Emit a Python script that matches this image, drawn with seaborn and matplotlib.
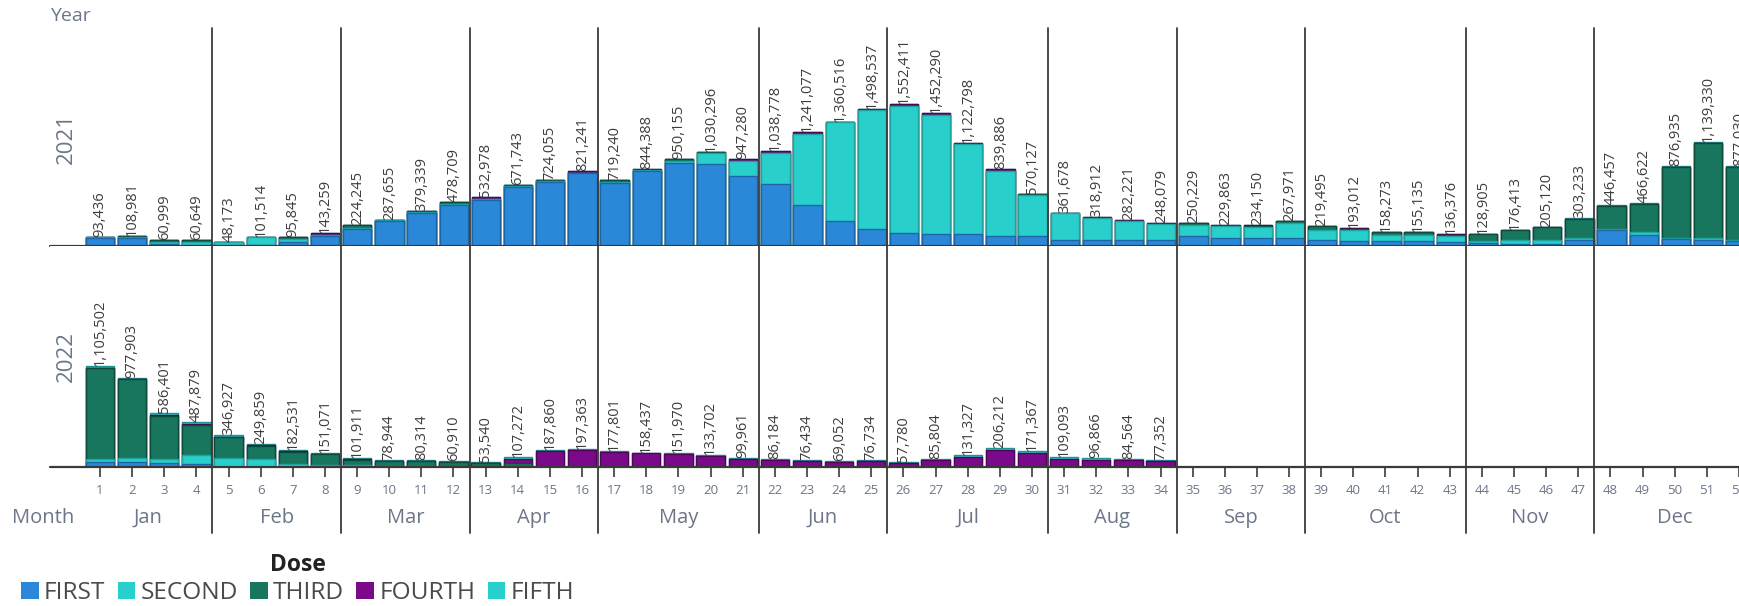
import pandas as pd
import seaborn as sns
import matplotlib.pyplot as plt
from matplotlib.patches import Patch
from matplotlib.transforms import blended_transform_factory

# Doses, stacked bottom -> top
doses = ['FIRST', 'SECOND', 'THIRD', 'FOURTH', 'FIFTH']
dose_colors = {'FIRST': '#2b88d8', 'SECOND': '#29d0cb', 'THIRD': '#18765f',
               'FOURTH': '#7b0a8b', 'FIFTH': '#29d0cb'}
edge_colors = {'FIRST': '#1d66a6', 'SECOND': '#1ea39e', 'THIRD': '#0d4a3b',
               'FOURTH': '#4c0657', 'FIFTH': '#1b9690'}

months = ['Jan', 'Feb', 'Mar', 'Apr', 'May', 'Jun', 'Jul', 'Aug', 'Sep', 'Oct', 'Nov', 'Dec']
month_weeks = [4, 4, 4, 4, 5, 4, 5, 4, 4, 5, 4, 5]

# 2021, weeks 1-52
weeks_2021 = list(range(1, 53))
first_2021 = [82000, 88000, 25000, 15000, 10000, 10000, 40000, 110000, 190000, 272000,
              365000, 450000, 500000, 640000, 695000, 800000, 690000, 825000, 910000, 895000,
              765000, 674000, 453000, 274000, 181000, 145000, 128000, 127000, 108000, 105000,
              71000, 70000, 67000, 65000, 104000, 86000, 86000, 87000, 65000, 50000,
              50000, 50000, 40000, 30000, 25000, 17000, 70000, 180000, 124000, 80000,
              66000, 50000]
second_2021 = [11436, 8000, 20000, 30000, 30000, 88000, 40000, 13000, 12000, 10000,
               10000, 10000, 10000, 12000, 10000, 0, 8000, 10000, 20000, 125000,
               165000, 347000, 770000, 1080000, 1300000, 1390000, 1307000, 990000, 715000, 455000,
               285000, 235000, 202000, 170000, 130000, 130000, 118000, 165000, 115000, 125000,
               70000, 70000, 70000, 30000, 40000, 45000, 20000, 6000, 25000, 8000,
               18000, 15000]
third_2021 = [0, 12981, 15999, 15649, 8173, 3514, 15845, 0, 22245, 5655,
              4339, 18709, 0, 19743, 19055, 0, 21240, 0, 20155, 10296,
              0, 0, 0, 0, 0, 0, 0, 0, 0, 10127,
              0, 0, 0, 0, 16229, 0, 17000, 15971, 39495, 8000,
              38273, 35135, 10000, 68905, 111413, 143120, 205233, 252457, 309622, 778935,
              1045330, 802030]
fourth_2021 = [0, 0, 0, 0, 0, 0, 0, 20259, 0, 0,
               0, 0, 22978, 0, 0, 21241, 0, 9388, 0, 0,
               17280, 17778, 18077, 6516, 17537, 17411, 17290, 5798, 16886, 0,
               5678, 13912, 13221, 13079, 0, 13863, 13150, 0, 0, 10012,
               0, 0, 16376, 0, 0, 0, 0, 0, 0, 0,
               0, 0]
fifth_2021 = [0] * 46 + [8000, 8000, 8000, 10000, 10000, 10000]

# 2022, weeks 1-34
weeks_2022 = list(range(1, 35))
first_2022 = [54000, 54000, 42000, 29000, 3000, 2000] + [0] * 28
second_2022 = [36000, 47000, 45000, 98000, 95000, 85000, 38000, 26000, 20000, 15000,
               15000, 2000] + [0] * 22
third_2022 = [990502, 856903, 473401, 334879, 226927, 146859, 124531, 113071, 61911, 53944,
              55314, 50910, 45000, 40000, 12000, 10000, 8000, 8000, 8000, 8000,
              8000, 8000, 6000, 6000, 6000, 6000, 6000, 8000, 8000, 10000,
              10000, 10000, 6000, 6000]
fourth_2022 = [0, 0, 8000, 12000, 8000, 10000, 10000, 0, 10000, 0,
               0, 0, 0, 52000, 160000, 175000, 155000, 140000, 130000, 112000,
               78000, 66000, 57000, 50000, 57000, 36000, 68000, 100000, 175000, 140000,
               80000, 70000, 70000, 56000]
fifth_2022 = [25000, 20000, 18000, 14000, 14000, 6000, 10000, 12000, 10000, 10000,
              10000, 8000, 8540, 15272, 15860, 12363, 14801, 10437, 13970, 13702,
              13961, 12184, 13434, 13052, 13734, 15780, 11804, 23327, 23212, 21367,
              19093, 16866, 8564, 15352]

W, H = 1739, 606
px_per_unit = 9.15e-5
grey_txt = '#6b7689'
dark = '#3a3a3a'

sns.set_theme(style='white')
plt.rcParams['font.family'] = ['Open Sans', 'DejaVu Sans']

fig = plt.figure(figsize=(W / 100, H / 100), dpi=100)
left = 50 / W
ax1 = fig.add_axes([left, (H - 246) / H, 1 - left, 218 / H])
ax2 = fig.add_axes([left, (H - 467) / H, 1 - left, 221 / H])


def draw_year(ax, weeks, parts, top_px):
    df = pd.DataFrame({'week': weeks})
    for d, vals in zip(doses, parts):
        df[d] = vals
    cum = df[doses].cumsum(axis=1)
    cum['week'] = df['week']
    long = cum.melt(id_vars='week', var_name='Dose', value_name='value')
    order = doses[::-1]
    sns.barplot(data=long, x='week', y='value', hue='Dose', hue_order=order,
                palette=dose_colors, native_scale=True, dodge=False, width=0.88,
                errorbar=None, legend=False, saturation=1, linewidth=1.0, ax=ax)
    for cont, d in zip(ax.containers, order):
        for bar in cont:
            bar.set_edgecolor(edge_colors[d])
    totals = df[doses].sum(axis=1)
    for w, t in zip(df['week'], totals):
        ax.text(w, t, f'{t:,}', rotation=90, ha='center', va='bottom',
                fontsize=10.5, color='#3d3d3d')
    ax.set_xlim(1 - 50 / 32.16, 1 + (W - 100) / 32.16)
    ax.set_ylim(0, top_px / px_per_unit)
    ax.axhline(0, color=dark, lw=1.6, clip_on=False, zorder=5)
    ax.set_yticks([])
    ax.set_xlabel('')
    ax.set_ylabel('')
    sns.despine(ax=ax, left=True, bottom=True)


draw_year(ax1, weeks_2021, [first_2021, second_2021, third_2021, fourth_2021, fifth_2021], 218)
draw_year(ax2, weeks_2022, [first_2022, second_2022, third_2022, fourth_2022, fifth_2022], 221)

ax1.set_xticks([])
ax2.set_xticks(weeks_2021)
ax2.set_xticklabels([str(w) for w in weeks_2021])
ax2.tick_params(axis='x', length=7, width=1.2, color=dark, pad=5.5,
                labelsize=9.5, labelcolor=grey_txt, bottom=True)

# month separators and month names
trans = blended_transform_factory(ax2.transData, fig.transFigure)
end = 0
for m, n in zip(months, month_weeks):
    start = end + 1
    end = end + n
    if end < 52:
        ax2.plot([end + 0.5, end + 0.5], [(H - 533) / H, (H - 28) / H], color=dark,
                 lw=1.3, transform=trans, clip_on=False, zorder=6)
    fig.text((start + end) / 2, (H - 518) / H, m, transform=trans, ha='center',
             va='center', fontsize=14.5, color=grey_txt)

fig.text(12 / W, (H - 518) / H, 'Month', ha='left', va='center', fontsize=14.5, color=grey_txt)
fig.text(50 / W, (H - 16) / H, 'Year', ha='left', va='center', fontsize=14, color=grey_txt)
fig.text(66 / W, (H - 138) / H, '2021', rotation=90, ha='center', va='center',
         fontsize=16, color=grey_txt)
fig.text(66 / W, (H - 357) / H, '2022', rotation=90, ha='center', va='center',
         fontsize=16, color=grey_txt)

handles = [Patch(facecolor=dose_colors[d], edgecolor='none', label=d) for d in doses]
leg = fig.legend(handles=handles, loc='lower left', bbox_to_anchor=(21 / W, 1 / H),
                 ncol=5, frameon=False, fontsize=17.6, title='Dose',
                 title_fontproperties={'weight': 'bold', 'size': 16.5},
                 handlelength=0.72, handleheight=0.72, handletextpad=0.22,
                 columnspacing=0.5, labelspacing=0.15, borderpad=0, borderaxespad=0)
for t in leg.get_texts():
    t.set_color('#4a4a4a')
leg.get_title().set_color('#222222')

fig.savefig('out.png', dpi=100)
